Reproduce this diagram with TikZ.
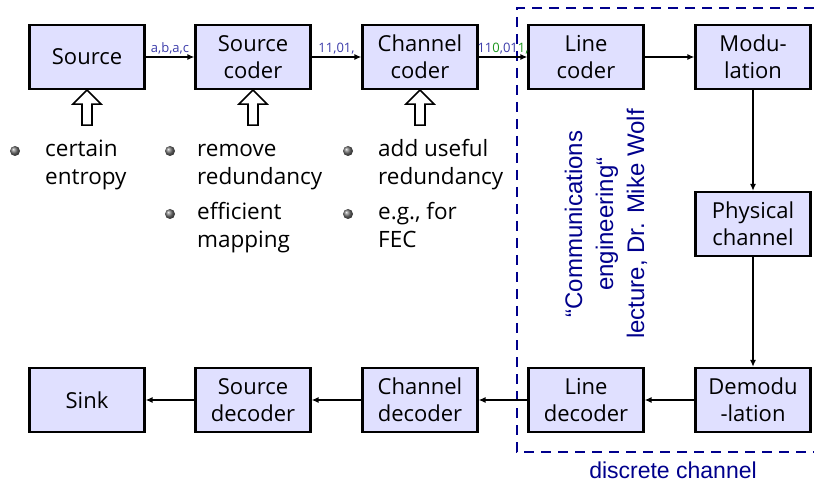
\documentclass[tikz,border=0pt]{standalone}
\usepackage{fontspec}
\setmainfont{Open Sans}
\newfontfamily\arialfont{Liberation Sans}
\usetikzlibrary{arrows.meta,shadings}
\definecolor{boxfill}{RGB}{224,224,255}
\definecolor{labelblue}{RGB}{60,60,170}
\definecolor{navy}{RGB}{0,0,140}
\definecolor{parity}{RGB}{30,150,30}

\begin{document}
\begin{tikzpicture}[x=1pt,y=-1pt]
% Stili
\tikzstyle{block} = [
    rectangle,
    draw,
    fill=boxfill,
    line width=2.2pt,
    minimum width=115pt,
    minimum height=64pt,
    inner sep=0pt,
    align=center,
    font=\fontsize{22}{27}\selectfont
]

\tikzstyle{flow} = [
    line width=1.6pt,
    -{Latex[length=7pt,width=6pt]}
]

\tikzstyle{lbl} = [
    text=labelblue,
    inner sep=2pt,
    font=\fontsize{13}{15}\selectfont
]

\tikzstyle{hollow} = [
    draw,
    fill=white,
    line width=1.6pt,
    line join=miter
]

\tikzstyle{item} = [
    anchor=base west,
    inner sep=0pt,
    align=left,
    font=\fontsize{22.5}{28}\selectfont
]

\tikzstyle{ball} = [
    circle,
    inner sep=0pt,
    minimum size=10pt,
    ball color=black!55
]

\useasboundingbox (0,0) rectangle (814,486);

% Canale discreto
\draw[navy, line width=2.6pt, dash pattern=on 10pt off 7pt]
    (814,8) -- (517,8) -- (517,452) -- (814,452);

% Nodi
\node[block] (src) at (87,57) {Source};
\node[block] (scoder) at (253,57) {Source\\coder};
\node[block] (ccoder) at (420,57) {Channel\\coder};
\node[block] (lcoder) at (586,57) {Line\\coder};
\node[block] (mod) at (753,57) {Modu-\\lation};

\node[block] (phys) at (753,224) {Physical\\channel};

\node[block] (demod) at (753,400) {Demodu\\-lation};
\node[block] (ldec) at (586,400) {Line\\decoder};
\node[block] (cdec) at (420,400) {Channel\\decoder};
\node[block] (sdec) at (253,400) {Source\\decoder};
\node[block] (sink) at (87,400) {Sink};

\node[rotate=90, align=center, text=navy,
      font=\arialfont\fontsize{24}{31}\selectfont] (note) at (606,224)
{“Communications\\engineering“\\lecture, Dr. Mike Wolf};

\node[text=navy, font=\arialfont\fontsize{23}{26}\selectfont] (dc) at (673,470)
{discrete channel};

% Elenchi (base = ultima riga)
\node[ball] (k1) at (15,151) {};
\node[item] (t1) at (45,185) {certain\\entropy};

\node[ball] (k2) at (170,151) {};
\node[item] (t2) at (197,185) {remove\\redundancy};

\node[ball] (k3) at (170,214) {};
\node[item] (t3) at (197,248) {efficient\\mapping};

\node[ball] (k4) at (348,151) {};
\node[item] (t4) at (378,185) {add useful\\redundancy};

\node[ball] (k5) at (348,214) {};
\node[item] (t5) at (378,248) {e.g., for\\FEC};

% Frecce vuote
\foreach \b in {src,scoder,ccoder}
    \draw[hollow] ([shift={(-5,35)}]\b.south) -- ++(10,0) -- ++(0,-21)
        -- ++(9,0) -- ++(-14,-14) -- ++(-14,14) -- ++(9,0) -- cycle;

% Archi
\draw[flow] (src) -- node[lbl, above] {a,b,a,c} (scoder);

\draw[flow] (scoder) -- node[lbl, above] {11,01,} (ccoder);

\draw[flow] (ccoder) -- node[lbl, above]
    {11\textcolor{parity}{0},01\textcolor{parity}{1,}} (lcoder);

\draw[flow] (lcoder) -- (mod);

\draw[flow] (mod) -- (phys);

\draw[flow] (phys) -- (demod);

\draw[flow] (demod) -- (ldec);

\draw[flow] (ldec) -- (cdec);

\draw[flow] (cdec) -- (sdec);

\draw[flow] (sdec) -- (sink);

\end{tikzpicture}
\end{document}
